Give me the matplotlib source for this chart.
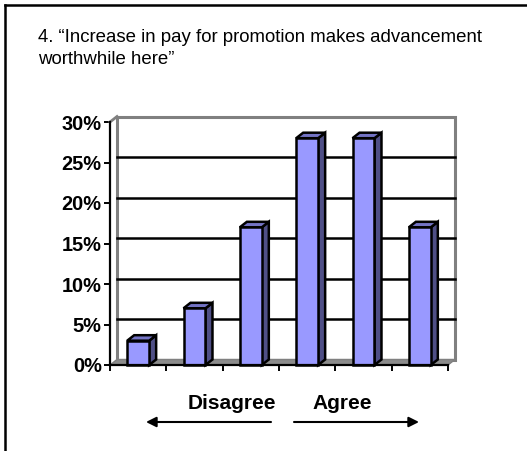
import matplotlib
matplotlib.use("Agg")
import matplotlib.pyplot as plt
from matplotlib.patches import Polygon, FancyArrowPatch
from matplotlib.lines import Line2D

plt.rcParams['font.family'] = ['Liberation Sans', 'DejaVu Sans']

# Survey responses, strongly disagree -> strongly agree (percent)
categories = ["1", "2", "3", "4", "5", "6"]
values = [3, 7, 17, 28, 28, 17]
yticks = [0, 5, 10, 15, 20, 25, 30]
ytick_labels = ["0%", "5%", "10%", "15%", "20%", "25%", "30%"]
title_lines = ["4. \u201cIncrease in pay for promotion makes advancement",
               "worthwhile here\u201d"]
scale_labels = ["Disagree", "Agree"]

W, H, DPI = 527, 451, 100
fig = plt.figure(figsize=(W / DPI, H / DPI), dpi=DPI)
fig.patch.set_facecolor("white")

# plot area in pixels
L, R, B, T = 110, 448, 365, 122
ax = fig.add_axes([L / W, 1 - B / H, (R - L) / W, (B - T) / H])
n = len(values)
ax.set_xlim(0, n)
ax.set_ylim(0, 30)
ax.set_facecolor("none")

# depth offset of the pseudo-3D wall/bars (pixels -> data units)
DXP, DYP = 7.0, 5.5
px_x = n / (R - L)
px_y = 30 / (B - T)
dx, dy = DXP * px_x, DYP * px_y

GREY = "#808080"
# back wall
wall = Polygon([(dx, dy), (n + dx, dy), (n + dx, 30 + dy), (dx, 30 + dy)],
               closed=True, facecolor="white", edgecolor=GREY, lw=2.2,
               clip_on=False, zorder=1)
ax.add_patch(wall)
# gridlines on the back wall
for v in yticks[1:-1]:
    ax.add_line(Line2D([dx, n + dx], [v + dy, v + dy], color="black", lw=1.8,
                       clip_on=False, zorder=2))
# side wall top edge
ax.add_line(Line2D([0, dx], [30, 30 + dy], color=GREY, lw=2, clip_on=False, zorder=2))
# floor
floor = Polygon([(0, 0), (n, 0), (n + dx, dy), (dx, dy)], closed=True,
                facecolor="#8c8c8c", edgecolor=GREY, lw=1.0, clip_on=False, zorder=2)
ax.add_patch(floor)

# bars: front face via bar(), sides and tops offset in depth
FRONT, TOP, SIDE = "#9999FF", "#7373C4", "#4F4F86"
width = 0.39
xs = [i + 0.5 for i in range(n)]
bars = ax.bar(xs, values, width=width, color=FRONT, edgecolor="black",
              linewidth=1.8, zorder=5, clip_on=False)
for x, v in zip(xs, values):
    x0, x1 = x - width / 2, x + width / 2
    side = Polygon([(x1, 0), (x1 + dx, dy), (x1 + dx, v + dy), (x1, v)],
                   closed=True, facecolor=SIDE, edgecolor="black", lw=1.8,
                   zorder=4, clip_on=False)
    top = Polygon([(x0, v), (x1, v), (x1 + dx, v + dy), (x0 + dx, v + dy)],
                  closed=True, facecolor=TOP, edgecolor="black", lw=1.8,
                  zorder=4, clip_on=False)
    ax.add_patch(side)
    ax.add_patch(top)

# axes
for s in ["top", "right"]:
    ax.spines[s].set_visible(False)
for s in ["left", "bottom"]:
    ax.spines[s].set_color("black")
    ax.spines[s].set_linewidth(1.6)
    ax.spines[s].set_zorder(6)
ax.set_yticks(yticks)
ax.set_yticklabels(ytick_labels, fontsize=14.4, fontweight="bold")
ax.set_xticks(range(n + 1))
ax.set_xticklabels([])
ax.tick_params(axis="both", direction="out", length=4.5, width=1.4, color="black")
ax.tick_params(axis="y", pad=1.5)

# title
fig.text(38 / W, 1 - 41.5 / H, title_lines[0], fontsize=13.4, va="baseline", ha="left")
fig.text(38 / W, 1 - 64.5 / H, title_lines[1], fontsize=13.4, va="baseline", ha="left")

# scale labels and arrows
fig.text(231.5 / W, 1 - 409 / H, scale_labels[0], fontsize=15, fontweight="bold",
         ha="center", va="baseline")
fig.text(342.5 / W, 1 - 409 / H, scale_labels[1], fontsize=15, fontweight="bold",
         ha="center", va="baseline")
for xa, xb in [(271, 146), (294, 419)]:
    arr = FancyArrowPatch((xa / W, 1 - 422 / H), (xb / W, 1 - 422 / H),
                          transform=fig.transFigure,
                          arrowstyle="-|>,head_length=6,head_width=3",
                          color="black", lw=1.5, shrinkA=0, shrinkB=0)
    fig.add_artist(arr)

# slide frame (left and top edges)
fig.add_artist(Line2D([5 / W, 5 / W], [0, 1 - 5 / H], color="black", lw=1.8,
                      transform=fig.transFigure))
fig.add_artist(Line2D([5 / W, 1], [1 - 5 / H, 1 - 5 / H], color="black", lw=1.8,
                      transform=fig.transFigure))

fig.savefig("out.png", dpi=DPI, facecolor="white")
